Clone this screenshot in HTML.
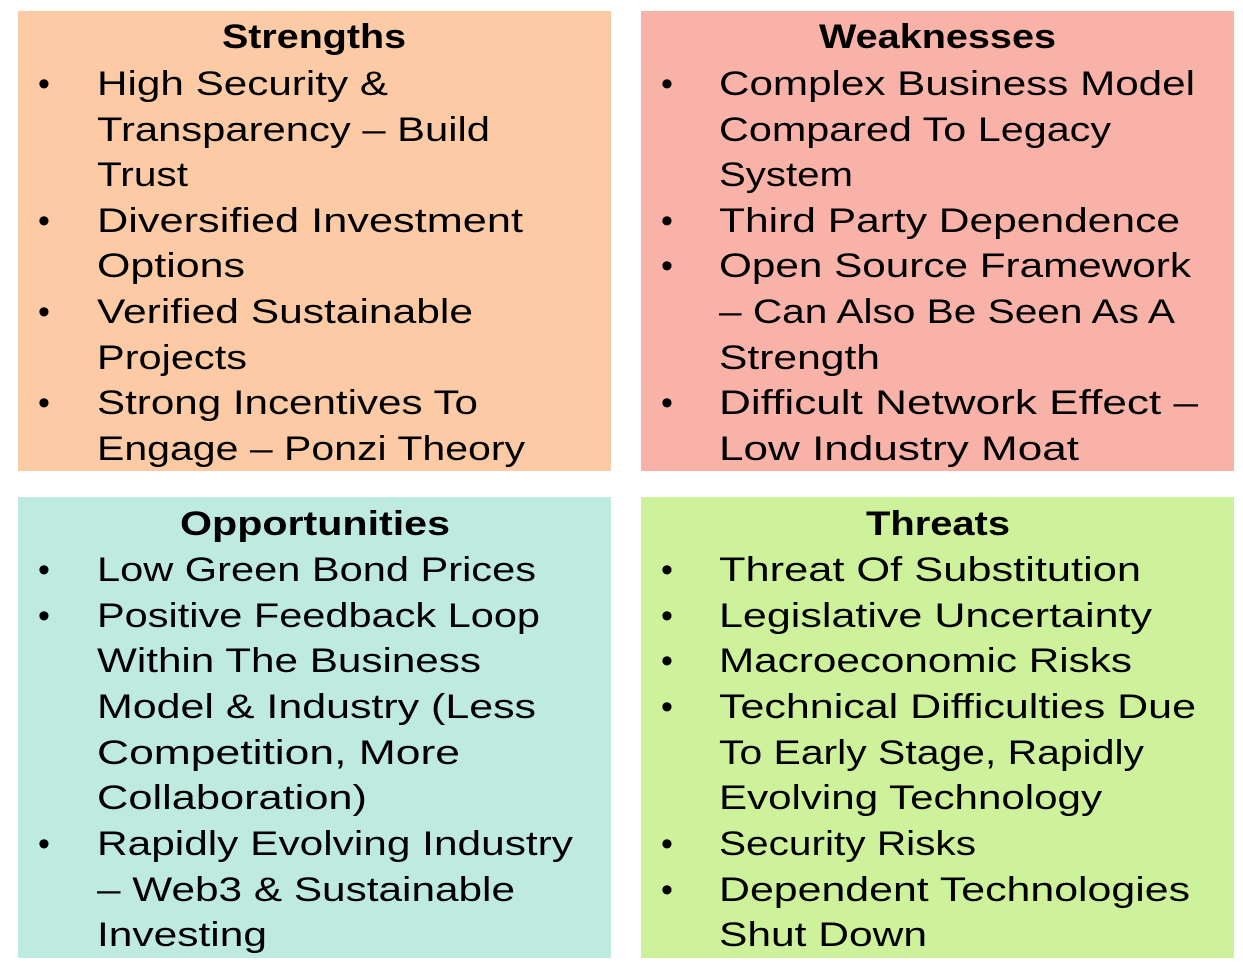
<!DOCTYPE html>
<html><head><meta charset="utf-8"><style>html,body{margin:0;padding:0;background:#fff}svg{display:block}</style></head>
<body>
<svg width="1243" height="965" xmlns="http://www.w3.org/2000/svg" font-family="'Liberation Sans', sans-serif" font-size="34" fill="#000">
<rect x="18" y="11" width="593" height="460" fill="#FCCBA5"/>
<rect x="641" y="11" width="593" height="460" fill="#F8B2A8"/>
<rect x="18" y="497" width="593" height="461" fill="#BEEADF"/>
<rect x="641" y="497" width="593" height="461" fill="#CEF19B"/>
<g lengthAdjust="spacingAndGlyphs">
<text x="222" y="48" font-weight="bold" textLength="184" lengthAdjust="spacingAndGlyphs">Strengths</text>
<text x="819" y="48" font-weight="bold" textLength="237" lengthAdjust="spacingAndGlyphs">Weaknesses</text>
<text x="180" y="535" font-weight="bold" textLength="270" lengthAdjust="spacingAndGlyphs">Opportunities</text>
<text x="866" y="535" font-weight="bold" textLength="144" lengthAdjust="spacingAndGlyphs">Threats</text>
</g>
<g>
<text x="38" y="95">•</text><text x="97" y="95" textLength="291" lengthAdjust="spacingAndGlyphs">High Security &amp;</text>
<text x="97" y="141" textLength="393" lengthAdjust="spacingAndGlyphs">Transparency – Build</text>
<text x="97" y="186" textLength="91" lengthAdjust="spacingAndGlyphs">Trust</text>
<text x="38" y="232">•</text><text x="97" y="232" textLength="426" lengthAdjust="spacingAndGlyphs">Diversified Investment</text>
<text x="97" y="277" textLength="148" lengthAdjust="spacingAndGlyphs">Options</text>
<text x="38" y="323">•</text><text x="97" y="323" textLength="376" lengthAdjust="spacingAndGlyphs">Verified Sustainable</text>
<text x="97" y="369" textLength="150" lengthAdjust="spacingAndGlyphs">Projects</text>
<text x="38" y="414">•</text><text x="97" y="414" textLength="381" lengthAdjust="spacingAndGlyphs">Strong Incentives To</text>
<text x="97" y="460" textLength="428" lengthAdjust="spacingAndGlyphs">Engage – Ponzi Theory</text>

<text x="661" y="95">•</text><text x="719" y="95" textLength="476" lengthAdjust="spacingAndGlyphs">Complex Business Model</text>
<text x="719" y="141" textLength="392" lengthAdjust="spacingAndGlyphs">Compared To Legacy</text>
<text x="719" y="186" textLength="134" lengthAdjust="spacingAndGlyphs">System</text>
<text x="661" y="232">•</text><text x="719" y="232" textLength="461" lengthAdjust="spacingAndGlyphs">Third Party Dependence</text>
<text x="661" y="277">•</text><text x="719" y="277" textLength="472" lengthAdjust="spacingAndGlyphs">Open Source Framework</text>
<text x="719" y="323" textLength="456" lengthAdjust="spacingAndGlyphs">– Can Also Be Seen As A</text>
<text x="719" y="369" textLength="161" lengthAdjust="spacingAndGlyphs">Strength</text>
<text x="661" y="414">•</text><text x="719" y="414" textLength="479" lengthAdjust="spacingAndGlyphs">Difficult Network Effect –</text>
<text x="719" y="460" textLength="360" lengthAdjust="spacingAndGlyphs">Low Industry Moat</text>

<text x="38" y="581">•</text><text x="97" y="581" textLength="439" lengthAdjust="spacingAndGlyphs">Low Green Bond Prices</text>
<text x="38" y="627">•</text><text x="97" y="627" textLength="443" lengthAdjust="spacingAndGlyphs">Positive Feedback Loop</text>
<text x="97" y="672" textLength="384" lengthAdjust="spacingAndGlyphs">Within The Business</text>
<text x="97" y="718" textLength="439" lengthAdjust="spacingAndGlyphs">Model &amp; Industry (Less</text>
<text x="97" y="764" textLength="363" lengthAdjust="spacingAndGlyphs">Competition, More</text>
<text x="97" y="809" textLength="270" lengthAdjust="spacingAndGlyphs">Collaboration)</text>
<text x="38" y="855">•</text><text x="97" y="855" textLength="476" lengthAdjust="spacingAndGlyphs">Rapidly Evolving Industry</text>
<text x="97" y="901" textLength="418" lengthAdjust="spacingAndGlyphs">– Web3 &amp; Sustainable</text>
<text x="97" y="946" textLength="170" lengthAdjust="spacingAndGlyphs">Investing</text>

<text x="661" y="581">•</text><text x="719" y="581" textLength="422" lengthAdjust="spacingAndGlyphs">Threat Of Substitution</text>
<text x="661" y="627">•</text><text x="719" y="627" textLength="433" lengthAdjust="spacingAndGlyphs">Legislative Uncertainty</text>
<text x="661" y="672">•</text><text x="719" y="672" textLength="413" lengthAdjust="spacingAndGlyphs">Macroeconomic Risks</text>
<text x="661" y="718">•</text><text x="719" y="718" textLength="477" lengthAdjust="spacingAndGlyphs">Technical Difficulties Due</text>
<text x="719" y="764" textLength="425" lengthAdjust="spacingAndGlyphs">To Early Stage, Rapidly</text>
<text x="719" y="809" textLength="383" lengthAdjust="spacingAndGlyphs">Evolving Technology</text>
<text x="661" y="855">•</text><text x="719" y="855" textLength="257" lengthAdjust="spacingAndGlyphs">Security Risks</text>
<text x="661" y="901">•</text><text x="719" y="901" textLength="471" lengthAdjust="spacingAndGlyphs">Dependent Technologies</text>
<text x="719" y="946" textLength="208" lengthAdjust="spacingAndGlyphs">Shut Down</text>
</g>
</svg>
</body></html>
